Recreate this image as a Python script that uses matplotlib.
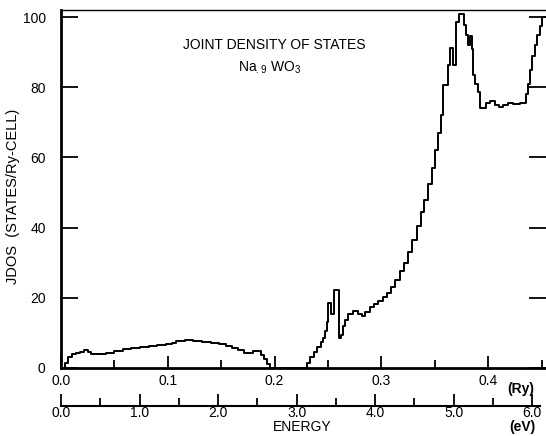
import numpy as np
import matplotlib.pyplot as plt

plt.rcParams['font.family'] = ['Liberation Sans', 'DejaVu Sans']
plt.rcParams['mathtext.default'] = 'regular'

RY_TO_EV = 13.6057

# joint density of states histogram, energy in Ry
energy_ry = [0.000, 0.004, 0.007, 0.010, 0.014, 0.018, 0.022, 0.025, 0.028, 0.035,
             0.042, 0.050, 0.058, 0.066, 0.074, 0.082, 0.090, 0.098, 0.104, 0.108,
             0.116, 0.124, 0.132, 0.140, 0.148, 0.154, 0.160, 0.166, 0.171, 0.176,
             0.180, 0.184, 0.187, 0.190, 0.193, 0.196,
             0.230, 0.233, 0.237, 0.240, 0.243, 0.245, 0.247, 0.249, 0.250, 0.253,
             0.256, 0.260, 0.262, 0.264, 0.266, 0.269, 0.273, 0.278, 0.282, 0.285,
             0.289, 0.293, 0.297, 0.301, 0.305, 0.309, 0.313, 0.317, 0.321, 0.325,
             0.329, 0.333, 0.337, 0.340, 0.344, 0.347, 0.350, 0.353, 0.356, 0.358,
             0.362, 0.364, 0.367, 0.370, 0.373, 0.377, 0.379, 0.381, 0.383, 0.385,
             0.386, 0.388, 0.390, 0.392, 0.398, 0.402, 0.406, 0.410, 0.414, 0.418,
             0.423, 0.430, 0.435, 0.437, 0.439, 0.441, 0.444, 0.446, 0.448, 0.450,
             0.454]
jdos = [0.0, 1.5, 3.0, 4.0, 4.3, 4.5, 5.1, 4.6, 4.0, 4.0,
        4.4, 4.9, 5.3, 5.7, 6.0, 6.2, 6.5, 6.8, 7.2, 7.8,
        7.9, 7.7, 7.5, 7.2, 6.8, 6.3, 5.8, 5.1, 4.4, 4.2,
        4.9, 4.8, 3.8, 2.6, 1.2, 0.0,
        1.5, 3.0, 4.5, 6.0, 7.3, 8.5, 10.5, 13.0, 18.5, 15.5,
        22.2, 8.5, 9.5, 12.0, 13.7, 15.5, 16.2, 15.5, 14.8, 16.0,
        17.3, 18.3, 19.0, 20.2, 21.3, 23.0, 25.0, 27.5, 30.0, 33.0,
        36.5, 40.5, 44.5, 48.0, 52.5, 57.0, 62.0, 67.0, 72.0, 80.6,
        86.3, 91.2, 86.3, 98.6, 101.0, 97.7, 94.9, 92.0, 94.5, 91.0,
        83.5, 81.0, 78.6, 74.0, 75.5, 76.0, 75.0, 74.3, 75.0, 75.5,
        75.3, 75.5, 78.0, 81.0, 85.0, 89.0, 92.0, 95.0, 97.5, 100.0,
        100.0]

ry_ticks = [0.0, 0.1, 0.2, 0.3, 0.4]
ev_ticks = [0.0, 1.0, 2.0, 3.0, 4.0, 5.0, 6.0]
y_ticks = [0, 20, 40, 60, 80, 100]

fig = plt.figure(figsize=(5.46, 4.36), dpi=100)
ax = fig.add_axes([0.1117, 0.156, 0.8883, 0.821])

ax.step(energy_ry, jdos, where='post', color='black', lw=1.4)
ax.set_xlim(0, 0.454)
ax.set_ylim(0, 102)

ax.spines['right'].set_visible(False)
ax.spines['left'].set_linewidth(2)
ax.spines['bottom'].set_linewidth(2)
ax.spines['top'].set_linewidth(1)

ax.set_xticks(ry_ticks)
ax.set_xticklabels(['%.1f' % t for t in ry_ticks])
ax.set_xticks(np.arange(0.05, 0.454, 0.1), minor=True)
ax.set_yticks(y_ticks)
ax.tick_params(axis='x', which='major', direction='in', length=8.5, width=1.3,
               labelsize=10, pad=4)
ax.tick_params(axis='x', which='minor', direction='in', length=6, width=1.3)
ax.tick_params(axis='y', which='major', direction='in', length=12, width=1.3,
               labelsize=10, right=True, pad=11)

ax.set_ylabel('JDOS  (STATES/Ry-CELL)', fontsize=10.5)
ax.yaxis.set_label_coords(-0.085, 0.48)

ax.text(0.439, 0.902, 'JOINT DENSITY OF STATES', transform=ax.transAxes,
        fontsize=10, ha='center', va='center')
ax.text(0.431, 0.838, r'Na$_{.9}$ WO$_3$', transform=ax.transAxes,
        fontsize=10, ha='center', va='center')

# second energy scale in eV
ax2 = fig.add_axes([0.1117, 0.069, 0.8883, 0.0001])
ax2.set_xlim(0, 0.454 * RY_TO_EV)
ax2.set_yticks([])
for side in ['top', 'left', 'right']:
    ax2.spines[side].set_visible(False)
ax2.spines['bottom'].set_linewidth(1.5)
ax2.spines['bottom'].set_bounds(0, 6.1)
ax2.set_xticks(ev_ticks)
ax2.set_xticklabels(['%.1f' % t for t in ev_ticks])
ax2.set_xticks(np.arange(0.5, 6.1, 1.0), minor=True)
ax2.tick_params(axis='x', which='major', direction='in', length=9, width=1.3,
                labelsize=10, pad=0)
ax2.tick_params(axis='x', which='minor', direction='in', length=5.5, width=1.3)

fig.text(0.954, 0.108, '(Ry)', fontsize=10, fontweight='bold', ha='center', va='center')
fig.text(0.553, 0.021, 'ENERGY', fontsize=10, ha='center', va='center')
fig.text(0.956, 0.021, '(eV)', fontsize=10, fontweight='bold', ha='center', va='center')

fig.savefig('out.png', dpi=100, facecolor='white')
